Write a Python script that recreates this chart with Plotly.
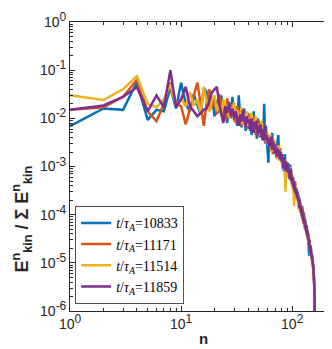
import numpy as np
import plotly.graph_objects as go

# mode number n = 1..160 (last point drops off the bottom of the axis)
n = list(range(1, 161))

E_10833 = [
    6.9e-3, 1.6e-2, 1.5e-2, 5.6e-2, 9.3e-3, 1.5e-2, 1.4e-2, 4.4e-2, 1.6e-2, 5.5e-2,
    2.0e-2, 1.4e-2, 3.2e-2, 2.0e-2, 1.2e-2, 4.2e-2, 3.5e-2, 1.5e-2, 2.6e-2, 1.1e-2,
    2.4e-2, 1.3e-2, 3.0e-2, 1.0e-2, 1.8e-2, 8.0e-3, 2.2e-2, 1.2e-2, 2.8e-2, 9.0e-3,
    1.5e-2, 7.0e-3, 3.0e-2, 1.2e-2, 6.5e-3, 1.0e-2, 1.6e-2, 5.5e-3, 9.0e-3, 1.3e-2,
    6.0e-3, 1.1e-2, 4.5e-3, 9.0e-3, 1.4e-2, 5.0e-3, 8.0e-3, 3.8e-3, 1.0e-2, 6.0e-3,
    8.0e-3, 4.0e-3, 7.0e-3, 3.5e-3, 5.5e-3, 2.0e-2, 3.0e-3, 7.0e-3, 4.0e-3, 2.5e-3,
    1.2e-3, 4.5e-3, 2.2e-3, 3.8e-3, 2.8e-3, 5.0e-3, 2.5e-3, 3.5e-3, 1.8e-3, 3.0e-3,
    2.4e-3, 1.5e-3, 2.8e-3, 3.5e-3, 4.5e-3, 1.6e-3, 2.2e-3, 1.3e-3, 2.0e-3, 1.5e-3,
    1.6e-3, 1.0e-3, 1.4e-3, 8.0e-4, 1.2e-3, 1.8e-3, 9.0e-4, 1.3e-3, 7.0e-4, 1.1e-3,
    8.0e-4, 1.2e-3, 6.5e-4, 9.5e-4, 5.5e-4, 1.1e-3, 6.0e-4, 8.5e-4, 4.5e-4, 6.5e-4,
    4.5e-4, 6.0e-4, 3.5e-4, 5.0e-4, 2.8e-4, 4.5e-4, 3.2e-4, 2.4e-4, 3.5e-4, 2.6e-4,
    2.2e-4, 3.0e-4, 1.8e-4, 2.5e-4, 1.6e-4, 2.2e-4, 1.4e-4, 1.9e-4, 1.3e-4, 1.6e-4,
    1.4e-4, 1.0e-4, 1.5e-4, 9.0e-5, 1.2e-4, 8.0e-5, 1.1e-4, 7.0e-5, 9.0e-5, 6.5e-5,
    8.0e-5, 5.5e-5, 7.0e-5, 4.5e-5, 6.0e-5, 4.0e-5, 5.0e-5, 3.5e-5, 4.2e-5, 3.0e-5,
    2.2e-5, 1.4e-5, 3.0e-5, 2.0e-5, 2.5e-5, 1.6e-5, 2.2e-5, 1.4e-5, 1.8e-5, 1.2e-5,
    1.5e-5, 1.0e-5, 1.2e-5, 8.0e-6, 9.0e-6, 6.0e-6, 5.0e-6, 3.5e-6, 2.5e-6, 1e-9,
]

E_11171 = [
    1.5e-2, 1.7e-2, 2.8e-2, 6.3e-2, 1.4e-2, 8.7e-3, 2.0e-2, 5.5e-2, 2.0e-2, 1.8e-2,
    7.5e-3, 1.5e-2, 3.0e-2, 5.5e-2, 2.0e-2, 7.0e-3, 2.2e-2, 4.0e-2, 1.6e-2, 2.5e-2,
    1.2e-2, 3.2e-2, 1.5e-2, 2.2e-2, 9.0e-3, 2.6e-2, 1.4e-2, 1.0e-2, 2.0e-2, 1.3e-2,
    8.0e-3, 1.8e-2, 1.0e-2, 1.4e-2, 7.0e-3, 1.5e-2, 9.0e-3, 1.2e-2, 6.0e-3, 1.0e-2,
    1.2e-2, 6.5e-3, 9.5e-3, 5.5e-3, 8.5e-3, 1.1e-2, 4.5e-3, 7.5e-3, 5.0e-3, 9.0e-3,
    4.0e-3, 6.5e-3, 5.0e-3, 8.0e-3, 3.5e-3, 6.0e-3, 4.5e-3, 3.0e-3, 5.0e-3, 3.8e-3,
    4.5e-3, 2.8e-3, 3.5e-3, 2.2e-3, 4.0e-3, 3.0e-3, 1.8e-3, 3.2e-3, 2.6e-3, 2.0e-3,
    2.8e-3, 1.7e-3, 2.4e-3, 1.8e-3, 2.6e-3, 1.5e-3, 2.0e-3, 2.4e-3, 1.4e-3, 1.8e-3,
    1.2e-3, 1.6e-3, 1.0e-3, 1.4e-3, 1.1e-3, 8.5e-4, 1.3e-3, 9.0e-4, 1.2e-3, 8.0e-4,
    1.0e-3, 7.0e-4, 9.0e-4, 6.0e-4, 8.5e-4, 6.5e-4, 7.5e-4, 5.0e-4, 7.0e-4, 5.5e-4,
    4.0e-4, 5.5e-4, 3.8e-4, 4.5e-4, 3.4e-4, 5.0e-4, 3.0e-4, 3.8e-4, 2.8e-4, 3.2e-4,
    2.6e-4, 2.0e-4, 2.6e-4, 1.7e-4, 2.3e-4, 1.5e-4, 2.0e-4, 1.4e-4, 1.8e-4, 1.2e-4,
    1.5e-4, 1.1e-4, 1.3e-4, 1.0e-4, 1.2e-4, 8.5e-5, 1.0e-4, 7.5e-5, 8.5e-5, 6.0e-5,
    7.0e-5, 5.5e-5, 6.5e-5, 4.8e-5, 5.5e-5, 4.2e-5, 4.8e-5, 3.6e-5, 4.0e-5, 3.0e-5,
    3.4e-5, 2.5e-5, 2.8e-5, 2.0e-5, 2.4e-5, 1.8e-5, 2.0e-5, 1.5e-5, 1.7e-5, 1.3e-5,
    1.4e-5, 1.1e-5, 1.2e-5, 9.0e-6, 1.0e-5, 7.0e-6, 5.5e-6, 4.0e-6, 2.8e-6, 1e-9,
]

E_11514 = [
    3.0e-2, 2.4e-2, 4.0e-2, 7.5e-2, 2.0e-2, 1.7e-2, 2.5e-2, 5.0e-2, 1.8e-2, 2.5e-2,
    1.8e-2, 3.5e-2, 1.8e-2, 2.5e-2, 1.3e-2, 4.5e-2, 2.2e-2, 1.4e-2, 2.5e-2, 3.0e-2,
    1.4e-2, 2.0e-2, 1.1e-2, 2.5e-2, 1.5e-2, 1.9e-2, 1.0e-2, 1.7e-2, 1.2e-2, 2.2e-2,
    1.1e-2, 1.5e-2, 8.0e-3, 1.3e-2, 1.7e-2, 7.5e-3, 1.2e-2, 9.0e-3, 1.4e-2, 7.0e-3,
    1.0e-2, 7.5e-3, 1.3e-2, 6.5e-3, 9.0e-3, 6.0e-3, 1.1e-2, 5.5e-3, 8.0e-3, 4.5e-3,
    7.0e-3, 5.0e-3, 9.0e-3, 4.0e-3, 6.0e-3, 3.5e-3, 5.5e-3, 4.5e-3, 3.0e-3, 5.0e-3,
    2.6e-3, 4.0e-3, 3.0e-3, 4.5e-3, 2.0e-3, 3.5e-3, 2.8e-3, 2.2e-3, 3.6e-3, 2.4e-3,
    1.8e-3, 2.6e-3, 1.4e-3, 2.2e-3, 1.7e-3, 2.8e-3, 1.3e-3, 1.9e-3, 1.5e-3, 1.2e-3,
    1.5e-3, 9.0e-4, 1.3e-3, 1.0e-3, 1.4e-3, 7.5e-4, 3.0e-4, 8.0e-4, 1.0e-3, 6.0e-4,
    9.0e-4, 6.5e-4, 8.0e-4, 1.0e-3, 6.0e-4, 7.5e-4, 5.0e-4, 6.5e-4, 4.0e-4, 5.5e-4,
    3.5e-4, 4.5e-4, 3.0e-4, 1.5e-4, 3.6e-4, 2.6e-4, 4.0e-4, 2.4e-4, 3.0e-4, 2.0e-4,
    2.4e-4, 1.6e-4, 2.0e-4, 1.3e-4, 1.8e-4, 1.2e-4, 1.6e-4, 1.1e-4, 1.4e-4, 1.0e-4,
    1.2e-4, 8.5e-5, 1.1e-4, 7.5e-5, 9.5e-5, 6.5e-5, 8.5e-5, 6.0e-5, 7.5e-5, 5.0e-5,
    6.5e-5, 4.5e-5, 5.5e-5, 4.0e-5, 5.0e-5, 3.5e-5, 4.2e-5, 3.0e-5, 3.6e-5, 2.5e-5,
    3.0e-5, 2.2e-5, 2.6e-5, 1.8e-5, 2.2e-5, 1.5e-5, 1.9e-5, 1.3e-5, 1.6e-5, 1.1e-5,
    1.3e-5, 9.5e-6, 1.1e-5, 8.0e-6, 9.0e-6, 6.5e-6, 5.0e-6, 3.6e-6, 2.6e-6, 1e-9,
]

E_11859 = [
    1.5e-2, 1.85e-2, 2.8e-2, 4.4e-2, 1.4e-2, 3.0e-2, 1.7e-2, 1.0e-1, 1.7e-2, 2.5e-2,
    4.5e-2, 1.8e-2, 1.4e-2, 1.1e-2, 1.3e-2, 1.5e-2, 1.6e-2, 2.5e-2, 3.5e-2, 4.0e-2,
    4.5e-2, 2.0e-2, 1.2e-2, 8.0e-3, 1.8e-2, 1.3e-2, 2.0e-2, 1.1e-2, 1.6e-2, 1.0e-2,
    1.4e-2, 9.0e-3, 7.0e-3, 1.2e-2, 8.5e-3, 1.5e-2, 1.0e-2, 6.5e-3, 1.1e-2, 8.0e-3,
    9.5e-3, 5.5e-3, 1.0e-2, 7.0e-3, 5.0e-3, 8.5e-3, 6.0e-3, 9.0e-3, 4.5e-3, 7.0e-3,
    5.0e-3, 7.5e-3, 4.0e-3, 6.0e-3, 3.5e-3, 5.5e-3, 7.0e-3, 3.5e-3, 4.5e-3, 3.0e-3,
    4.0e-3, 2.5e-3, 3.8e-3, 2.8e-3, 4.2e-3, 2.2e-3, 3.4e-3, 2.6e-3, 3.0e-3, 1.9e-3,
    2.6e-3, 2.0e-3, 1.6e-3, 2.4e-3, 1.8e-3, 2.2e-3, 1.4e-3, 2.0e-3, 1.6e-3, 1.3e-3,
    1.8e-3, 1.2e-3, 9.0e-4, 1.5e-3, 1.0e-3, 1.3e-3, 8.0e-4, 1.1e-3, 9.0e-4, 1.2e-3,
    7.5e-4, 1.0e-3, 7.0e-4, 8.0e-4, 5.5e-4, 9.0e-4, 6.5e-4, 5.0e-4, 6.0e-4, 4.5e-4,
    5.5e-4, 3.8e-4, 4.8e-4, 3.2e-4, 4.2e-4, 2.9e-4, 3.6e-4, 2.7e-4, 3.2e-4, 2.3e-4,
    2.8e-4, 2.1e-4, 2.4e-4, 1.8e-4, 2.0e-4, 1.4e-4, 1.8e-4, 1.3e-4, 1.5e-4, 1.1e-4,
    1.3e-4, 9.5e-5, 1.2e-4, 8.0e-5, 1.0e-4, 7.0e-5, 9.0e-5, 6.5e-5, 7.5e-5, 5.5e-5,
    6.5e-5, 4.8e-5, 6.0e-5, 4.2e-5, 5.2e-5, 3.6e-5, 4.5e-5, 3.2e-5, 3.8e-5, 2.8e-5,
    3.2e-5, 2.3e-5, 2.7e-5, 1.9e-5, 2.3e-5, 1.6e-5, 2.0e-5, 1.4e-5, 1.6e-5, 1.2e-5,
    1.3e-5, 1.0e-5, 1.1e-5, 8.0e-6, 8.5e-6, 6.0e-6, 4.5e-6, 3.2e-6, 2.2e-6, 1e-9,
]

times = ["10833", "11171", "11514", "11859"]
series = [E_10833, E_11171, E_11514, E_11859]
colors = ["#0072BD", "#D95319", "#EDB120", "#7E2F8E"]

sup = "<sup><span style='font-size:12px'>{}</span></sup>"
yticks = [1, 1e-1, 1e-2, 1e-3, 1e-4, 1e-5, 1e-6]
ylabels = ["10" + sup.format(p) for p in ["0", "-1", "-2", "-3", "-4", "-5", "-6"]]
xticks = [1, 10, 100]
xlabels = ["10" + sup.format(p) for p in ["0", "1", "2"]]

# minor ticks at 2..9 of each decade
y_minor = [m * 10.0 ** p for p in range(-6, 0) for m in range(2, 10)]
x_minor = [m * 10.0 ** p for p in range(0, 3) for m in range(2, 10)]

fig = go.Figure()
for t, e, c in zip(times, series, colors):
    fig.add_trace(go.Scatter(
        x=n, y=e, mode="lines",
        line=dict(color=c, width=2.5),
        name=f"<i>t</i>/<i>τ</i><sub><i>A</i></sub>={t}",
    ))

axis_common = dict(
    type="log", showgrid=False, zeroline=False,
    showline=True, linecolor="#262626", linewidth=0.8, mirror="ticks",
    ticks="inside", ticklen=5, tickcolor="#262626", tickwidth=0.8,
    ticklabeloverflow="allow",
    tickfont=dict(family="Liberation Sans, Arial", size=14, color="#262626"),
)

fig.update_xaxes(
    range=[0, np.log10(253)], tickmode="array", tickvals=xticks, ticktext=xlabels,
    minor=dict(tickmode="array", tickvals=x_minor, ticks="inside", ticklen=3,
               tickcolor="#262626", tickwidth=0.6, showgrid=False),
    title=dict(text="<b>n</b>", font=dict(family="Liberation Sans, Arial", size=15, color="#262626"), standoff=2),
    **axis_common,
)
fig.update_yaxes(
    range=[-6, 0], tickmode="array", tickvals=yticks, ticktext=ylabels,
    minor=dict(tickmode="array", tickvals=y_minor, ticks="inside", ticklen=3,
               tickcolor="#262626", tickwidth=0.6, showgrid=False),
    **axis_common,
)

# y-axis label, placed like the original (sits low beside the axis)
fig.add_annotation(
    text="<b>E<sup>n</sup><sub>kin</sub> / Σ E<sup>n</sup><sub>kin</sub></b>",
    xref="paper", yref="paper", x=-0.18, y=0.32,
    xanchor="center", yanchor="middle", textangle=-90, showarrow=False,
    font=dict(family="Liberation Sans, Arial", size=18, color="#262626"),
)

fig.update_layout(
    width=332, height=349,
    margin=dict(l=62, r=2, t=7, b=46),
    plot_bgcolor="white", paper_bgcolor="white",
    showlegend=True,
    legend=dict(
        x=0.02, y=0.026, xanchor="left", yanchor="bottom",
        bgcolor="white", bordercolor="#262626", borderwidth=0.8,
        font=dict(family="Liberation Serif, DejaVu Serif", size=14, color="black"),
        itemwidth=30, tracegroupgap=0,
    ),
)

fig.write_html("out.html")
